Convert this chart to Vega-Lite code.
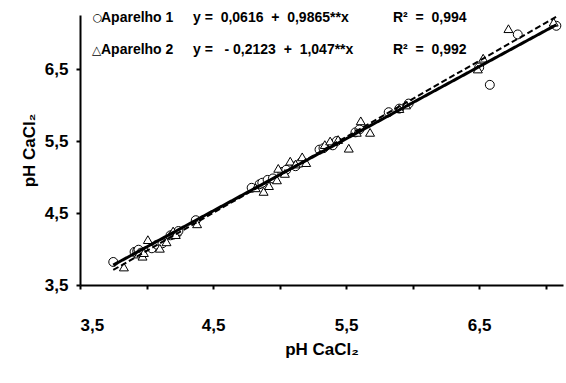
{
  "$schema": "https://vega.github.io/schema/vega-lite/v6.json",
  "width": 483,
  "height": 270,
  "autosize": {"type": "none"},
  "padding": {"left": 80, "top": 15, "right": 3, "bottom": 98},
  "background": "white",
  "config": {
    "view": {"stroke": null},
    "font": "Liberation Sans",
    "axis": {
      "grid": false,
      "domainColor": "black",
      "domainWidth": 2,
      "tickColor": "black",
      "tickWidth": 2,
      "tickSize": 4,
      "labelColor": "black",
      "labelFontSize": 17,
      "labelFontWeight": "bold",
      "titleColor": "black",
      "titleFontSize": 17,
      "titleFontWeight": "bold"
    }
  },
  "data": {
    "values": [
      {"serie": "Aparelho 1", "x": 3.75, "y": 3.82},
      {"serie": "Aparelho 1", "x": 3.91, "y": 3.96},
      {"serie": "Aparelho 1", "x": 3.93, "y": 3.97},
      {"serie": "Aparelho 1", "x": 3.94, "y": 3.99},
      {"serie": "Aparelho 1", "x": 3.96, "y": 3.95},
      {"serie": "Aparelho 1", "x": 4.04, "y": 4.01},
      {"serie": "Aparelho 1", "x": 4.08, "y": 4.06},
      {"serie": "Aparelho 1", "x": 4.12, "y": 4.08},
      {"serie": "Aparelho 1", "x": 4.18, "y": 4.19},
      {"serie": "Aparelho 1", "x": 4.2, "y": 4.2},
      {"serie": "Aparelho 1", "x": 4.23, "y": 4.22},
      {"serie": "Aparelho 1", "x": 4.24, "y": 4.25},
      {"serie": "Aparelho 1", "x": 4.37, "y": 4.4},
      {"serie": "Aparelho 1", "x": 4.79, "y": 4.85},
      {"serie": "Aparelho 1", "x": 4.85, "y": 4.9},
      {"serie": "Aparelho 1", "x": 4.87, "y": 4.92},
      {"serie": "Aparelho 1", "x": 4.91, "y": 4.96},
      {"serie": "Aparelho 1", "x": 4.95, "y": 4.98},
      {"serie": "Aparelho 1", "x": 5.02, "y": 5.07},
      {"serie": "Aparelho 1", "x": 5.05, "y": 5.1},
      {"serie": "Aparelho 1", "x": 5.12, "y": 5.15},
      {"serie": "Aparelho 1", "x": 5.16, "y": 5.2},
      {"serie": "Aparelho 1", "x": 5.3, "y": 5.38},
      {"serie": "Aparelho 1", "x": 5.33, "y": 5.4},
      {"serie": "Aparelho 1", "x": 5.4, "y": 5.44},
      {"serie": "Aparelho 1", "x": 5.43, "y": 5.5},
      {"serie": "Aparelho 1", "x": 5.57, "y": 5.62},
      {"serie": "Aparelho 1", "x": 5.6, "y": 5.66},
      {"serie": "Aparelho 1", "x": 5.82, "y": 5.9},
      {"serie": "Aparelho 1", "x": 5.9, "y": 5.95},
      {"serie": "Aparelho 1", "x": 5.97, "y": 6.02},
      {"serie": "Aparelho 1", "x": 6.5, "y": 6.52},
      {"serie": "Aparelho 1", "x": 6.58, "y": 6.28},
      {"serie": "Aparelho 1", "x": 6.79, "y": 6.98},
      {"serie": "Aparelho 1", "x": 7.08, "y": 7.1},
      {"serie": "Aparelho 2", "x": 3.83, "y": 3.75},
      {"serie": "Aparelho 2", "x": 3.94, "y": 3.93},
      {"serie": "Aparelho 2", "x": 3.97, "y": 3.9},
      {"serie": "Aparelho 2", "x": 3.98, "y": 3.95},
      {"serie": "Aparelho 2", "x": 4.01, "y": 4.13},
      {"serie": "Aparelho 2", "x": 4.1, "y": 4.01},
      {"serie": "Aparelho 2", "x": 4.15, "y": 4.1},
      {"serie": "Aparelho 2", "x": 4.2, "y": 4.25},
      {"serie": "Aparelho 2", "x": 4.22, "y": 4.2},
      {"serie": "Aparelho 2", "x": 4.38, "y": 4.35},
      {"serie": "Aparelho 2", "x": 4.82, "y": 4.85},
      {"serie": "Aparelho 2", "x": 4.88, "y": 4.8},
      {"serie": "Aparelho 2", "x": 4.92, "y": 4.88},
      {"serie": "Aparelho 2", "x": 4.98, "y": 4.96},
      {"serie": "Aparelho 2", "x": 4.99, "y": 5.12},
      {"serie": "Aparelho 2", "x": 5.04, "y": 5.05},
      {"serie": "Aparelho 2", "x": 5.08, "y": 5.22},
      {"serie": "Aparelho 2", "x": 5.12, "y": 5.18},
      {"serie": "Aparelho 2", "x": 5.17, "y": 5.28},
      {"serie": "Aparelho 2", "x": 5.2, "y": 5.2},
      {"serie": "Aparelho 2", "x": 5.34, "y": 5.45},
      {"serie": "Aparelho 2", "x": 5.38, "y": 5.5},
      {"serie": "Aparelho 2", "x": 5.44, "y": 5.52},
      {"serie": "Aparelho 2", "x": 5.52, "y": 5.4},
      {"serie": "Aparelho 2", "x": 5.58, "y": 5.62},
      {"serie": "Aparelho 2", "x": 5.61, "y": 5.78},
      {"serie": "Aparelho 2", "x": 5.68, "y": 5.62},
      {"serie": "Aparelho 2", "x": 5.9, "y": 5.95},
      {"serie": "Aparelho 2", "x": 5.95, "y": 6.0},
      {"serie": "Aparelho 2", "x": 6.49, "y": 6.5},
      {"serie": "Aparelho 2", "x": 6.53, "y": 6.65},
      {"serie": "Aparelho 2", "x": 6.72, "y": 7.06},
      {"serie": "Aparelho 2", "x": 7.06, "y": 7.15}
    ]
  },
  "layer": [
    {
      "mark": {"type": "point", "filled": false, "fill": "white", "stroke": "black", "strokeWidth": 1, "opacity": 1},
      "encoding": {
        "x": {
          "field": "x", "type": "quantitative",
          "scale": {"domain": [3.5, 7.13], "nice": false, "zero": false},
          "axis": {
            "title": "pH CaCl₂",
            "values": [3.5, 4, 4.5, 5, 5.5, 6, 6.5, 7],
            "labelExpr": "datum.value % 1 != 0 ? replace(format(datum.value, '.1f'), '.', ',') : ''",
            "labelPadding": 28,
            "titlePadding": 8
          }
        },
        "y": {
          "field": "y", "type": "quantitative",
          "scale": {"domain": [3.5, 7.25], "nice": false, "zero": false},
          "axis": {
            "title": "pH CaCl₂",
            "values": [3.5, 4, 4.5, 5, 5.5, 6, 6.5, 7],
            "labelExpr": "datum.value % 1 != 0 ? replace(format(datum.value, '.1f'), '.', ',') : ''",
            "labelPadding": 8,
            "titlePadding": 6
          }
        },
        "shape": {
          "field": "serie", "type": "nominal",
          "scale": {"domain": ["Aparelho 1", "Aparelho 2"], "range": ["circle", "triangle-up"]},
          "legend": null
        },
        "size": {"value": 80}
      }
    },
    {
      "transform": [{"regression": "y", "on": "x", "groupby": ["serie"], "extent": [3.75, 7.08]}],
      "mark": {"type": "line", "color": "black"},
      "encoding": {
        "x": {"field": "x", "type": "quantitative"},
        "y": {"field": "y", "type": "quantitative"},
        "detail": {"field": "serie", "type": "nominal"},
        "strokeDash": {
          "condition": {"test": "datum.serie == 'Aparelho 2'", "value": [6, 3]},
          "value": [1, 0]
        },
        "strokeWidth": {
          "condition": {"test": "datum.serie == 'Aparelho 2'", "value": 2},
          "value": 3
        }
      }
    },
    {
      "data": {"values": [{}]},
      "mark": {"type": "text", "align": "center", "baseline": "middle", "fontWeight": "normal", "fontSize": 11, "fill": "black", "font": "DejaVu Sans"},
      "encoding": {"x": {"datum": 3.6315}, "y": {"datum": 7.208}, "text": {"value": "○"}}
    },
    {
      "data": {"values": [{}]},
      "mark": {"type": "text", "align": "left", "baseline": "middle", "fontWeight": "bold", "fontSize": 14, "fill": "black", "font": "Liberation Sans"},
      "encoding": {"x": {"datum": 3.6578}, "y": {"datum": 7.208}, "text": {"value": "Aparelho 1"}}
    },
    {
      "data": {"values": [{}]},
      "mark": {"type": "text", "align": "left", "baseline": "middle", "fontWeight": "bold", "fontSize": 14, "fill": "black", "font": "Liberation Sans"},
      "encoding": {"x": {"datum": 4.3493}, "y": {"datum": 7.208}, "text": {"value": "y\u00a0=\u00a0\u00a00,0616\u00a0\u00a0+\u00a0\u00a00,9865**x"}}
    },
    {
      "data": {"values": [{}]},
      "mark": {"type": "text", "align": "left", "baseline": "middle", "fontWeight": "bold", "fontSize": 14, "fill": "black", "font": "Liberation Sans"},
      "encoding": {"x": {"datum": 5.8524}, "y": {"datum": 7.208}, "text": {"value": "R²\u00a0\u00a0=\u00a0\u00a00,994"}}
    },
    {
      "data": {"values": [{}]},
      "mark": {"type": "text", "align": "center", "baseline": "middle", "fontWeight": "normal", "fontSize": 12, "fill": "black", "font": "DejaVu Sans"},
      "encoding": {"x": {"datum": 3.624}, "y": {"datum": 6.764}, "text": {"value": "△"}}
    },
    {
      "data": {"values": [{}]},
      "mark": {"type": "text", "align": "left", "baseline": "middle", "fontWeight": "bold", "fontSize": 14, "fill": "black", "font": "Liberation Sans"},
      "encoding": {"x": {"datum": 3.6578}, "y": {"datum": 6.764}, "text": {"value": "Aparelho 2"}}
    },
    {
      "data": {"values": [{}]},
      "mark": {"type": "text", "align": "left", "baseline": "middle", "fontWeight": "bold", "fontSize": 14, "fill": "black", "font": "Liberation Sans"},
      "encoding": {"x": {"datum": 4.3493}, "y": {"datum": 6.764}, "text": {"value": "y\u00a0=\u00a0\u00a0\u00a0-\u00a00,2123\u00a0\u00a0+\u00a0\u00a01,047**x"}}
    },
    {
      "data": {"values": [{}]},
      "mark": {"type": "text", "align": "left", "baseline": "middle", "fontWeight": "bold", "fontSize": 14, "fill": "black", "font": "Liberation Sans"},
      "encoding": {"x": {"datum": 5.8524}, "y": {"datum": 6.764}, "text": {"value": "R²\u00a0\u00a0=\u00a0\u00a00,992"}}
    }
  ]
}
